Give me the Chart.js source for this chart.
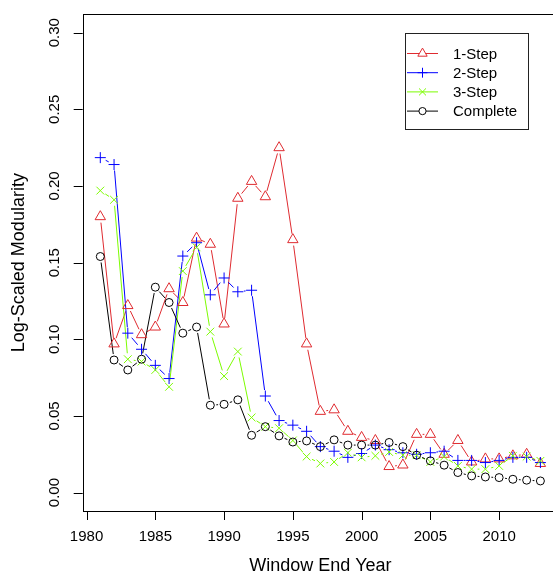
<!DOCTYPE html>
<html>
<head>
<meta charset="utf-8">
<script src="https://cdn.jsdelivr.net/npm/chart.js@4"></script>
<style>
  html, body { margin: 0; padding: 0; background: #fff; overflow: hidden; }
  #wrap { width: 553px; height: 575px; overflow: hidden; }
</style>
</head>
<body>
<div id="wrap"><canvas id="modChart" width="565" height="575"></canvas></div>
<script>
// window end years
const years = [1981, 1982, 1983, 1984, 1985, 1986, 1987, 1988, 1989, 1990, 1991,
  1992, 1993, 1994, 1995, 1996, 1997, 1998, 1999, 2000, 2001, 2002, 2003,
  2004, 2005, 2006, 2007, 2008, 2009, 2010, 2011, 2012, 2013];

const oneStep = [0.180, 0.097, 0.122, 0.103, 0.108, 0.133, 0.124, 0.166, 0.162, 0.110, 0.192,
  0.203, 0.193, 0.225, 0.165, 0.097, 0.053, 0.054, 0.040, 0.036, 0.034, 0.017, 0.018,
  0.038, 0.038, 0.025, 0.034, 0.020, 0.022, 0.022, 0.024, 0.025, 0.019];
const twoStep = [0.2185, 0.214, 0.104, 0.0935, 0.083, 0.0744, 0.1543, 0.163, 0.129, 0.140, 0.131,
  0.132, 0.063, 0.047, 0.044, 0.040, 0.030, 0.027, 0.023, 0.0255, 0.031, 0.028, 0.026,
  0.025, 0.026, 0.027, 0.021, 0.021, 0.0196, 0.021, 0.023, 0.023, 0.0196];
const threeStep = [0.197, 0.191, 0.087, 0.0855, 0.080, 0.069, 0.1445, 0.160, 0.105, 0.076, 0.092,
  0.049, 0.043, 0.042, 0.034, 0.0235, 0.019, 0.020, 0.026, 0.023, 0.024, 0.0265, 0.0244,
  0.0244, 0.020, 0.0235, 0.0174, 0.0153, 0.0153, 0.0174, 0.024, 0.0235, 0.0207];
const complete = [0.154, 0.0865, 0.080, 0.087, 0.134, 0.124, 0.104, 0.108, 0.057, 0.0576, 0.0605,
  0.0374, 0.043, 0.037, 0.033, 0.0337, 0.030, 0.0344, 0.031, 0.031, 0.031, 0.0327, 0.030,
  0.0244, 0.0207, 0.0179, 0.0131, 0.0109, 0.0102, 0.0098, 0.0087, 0.0081, 0.0076];

const seriesNames = ['1-Step', '2-Step', '3-Step', 'Complete'];
const xTicks = [1980, 1985, 1990, 1995, 2000, 2005, 2010];
const yTicks = [0.00, 0.05, 0.10, 0.15, 0.20, 0.25, 0.30];

const FONT = '"Liberation Sans", Arial, Helvetica, sans-serif';

function toPoints(vals) {
  return vals.map((v, i) => ({ x: years[i], y: v }));
}

const styles = [
  { color: '#DF2B30', point: 'triangle', radius: 6 },
  { color: '#0000FF', point: 'cross', radius: 5.5 },
  { color: '#7CFC00', point: 'crossRot', radius: 5.5 },
  { color: '#000000', point: 'circle', radius: 4 }
];
const allSeries = [oneStep, twoStep, threeStep, complete];

const datasets = allSeries.map((vals, k) => ({
  label: seriesNames[k],
  data: toPoints(vals),
  showLine: false,
  borderColor: styles[k].color,
  backgroundColor: 'rgba(0,0,0,0)',
  pointStyle: styles[k].point,
  pointRadius: styles[k].radius,
  pointBorderWidth: 1,
  pointBorderColor: styles[k].color,
  pointBackgroundColor: 'rgba(0,0,0,0)',
  order: 3 - k
}));

// R style "b" lines: segments between points that stop short of the markers
const gapLines = {
  id: 'gapLines',
  beforeDatasetsDraw(chart) {
    const ctx = chart.ctx;
    const gap = 6;
    ctx.save();
    ctx.lineWidth = 1;
    chart.data.datasets.forEach((ds, di) => {
      const pts = chart.getDatasetMeta(di).data;
      ctx.strokeStyle = ds.borderColor;
      ctx.beginPath();
      for (let i = 0; i < pts.length - 1; i++) {
        const a = pts[i], b = pts[i + 1];
        const dx = b.x - a.x, dy = b.y - a.y;
        const len = Math.hypot(dx, dy);
        if (len <= 2 * gap) continue;
        const ux = dx / len, uy = dy / len;
        ctx.moveTo(a.x + ux * gap, a.y + uy * gap);
        ctx.lineTo(b.x - ux * gap, b.y - uy * gap);
      }
      ctx.stroke();
    });
    ctx.restore();
  }
};

// box, ticks, tick labels, axis titles and legend
const frame = {
  id: 'frame',
  afterDraw(chart) {
    const ctx = chart.ctx;
    const area = chart.chartArea;
    const xs = chart.scales.x, ys = chart.scales.y;
    ctx.save();
    ctx.strokeStyle = '#000';
    ctx.fillStyle = '#000';
    ctx.lineWidth = 1;
    ctx.strokeRect(Math.round(area.left) + 0.5, Math.round(area.top) + 0.5,
      Math.round(area.right - area.left), Math.round(area.bottom - area.top));

    // x ticks
    ctx.font = '15px ' + FONT;
    ctx.textAlign = 'center';
    ctx.textBaseline = 'middle';
    ctx.beginPath();
    xTicks.forEach(t => {
      const px = Math.round(xs.getPixelForValue(t)) + 0.5;
      ctx.moveTo(px, area.bottom);
      ctx.lineTo(px, area.bottom + 9);
    });
    ctx.stroke();
    xTicks.forEach(t => {
      ctx.fillText(String(t), xs.getPixelForValue(t), 537);
    });

    // y ticks, labels rotated
    ctx.beginPath();
    yTicks.forEach(t => {
      const py = Math.round(ys.getPixelForValue(t)) + 0.5;
      ctx.moveTo(area.left, py);
      ctx.lineTo(area.left - 9, py);
    });
    ctx.stroke();
    yTicks.forEach(t => {
      ctx.save();
      ctx.translate(55, ys.getPixelForValue(t));
      ctx.rotate(-Math.PI / 2);
      ctx.fillText(t.toFixed(2), 0, 0);
      ctx.restore();
    });

    // axis titles
    ctx.font = '18px ' + FONT;
    ctx.fillText('Window End Year', (area.left + area.right) / 2, 566);
    ctx.save();
    ctx.translate(19, (area.top + area.bottom) / 2);
    ctx.rotate(-Math.PI / 2);
    ctx.fillText('Log-Scaled Modularity', 0, 0);
    ctx.restore();

    // legend
    ctx.strokeStyle = '#222';
    ctx.strokeRect(405.5, 33.5, 123, 96);
    ctx.font = '15px ' + FONT;
    ctx.textAlign = 'left';
    seriesNames.forEach((name, k) => {
      const y = 53.5 + k * 19.2;
      ctx.strokeStyle = styles[k].color;
      ctx.beginPath();
      ctx.moveTo(407, y);
      ctx.lineTo(438, y);
      ctx.stroke();
      ctx.fillStyle = '#fff';
      Chart.helpers.drawPoint(ctx, {
        pointStyle: styles[k].point,
        radius: styles[k].radius * 0.9,
        rotation: 0,
        borderWidth: 1
      }, 422.5, y);
      ctx.fillStyle = '#000';
      ctx.fillText(name, 453, y + 1);
    });
    ctx.restore();
  }
};

new Chart(document.getElementById('modChart'), {
  type: 'scatter',
  data: { datasets: datasets },
  options: {
    responsive: false,
    animation: false,
    devicePixelRatio: 1,
    layout: { padding: { left: 82.7, right: 3.5, top: 14.3, bottom: 64 } },
    plugins: { legend: { display: false }, tooltip: { enabled: false } },
    scales: {
      x: { type: 'linear', min: 1979.72, max: 2014.28, display: false },
      y: { type: 'linear', min: -0.012, max: 0.312, display: false }
    }
  },
  plugins: [gapLines, frame]
});
</script>
</body>
</html>
